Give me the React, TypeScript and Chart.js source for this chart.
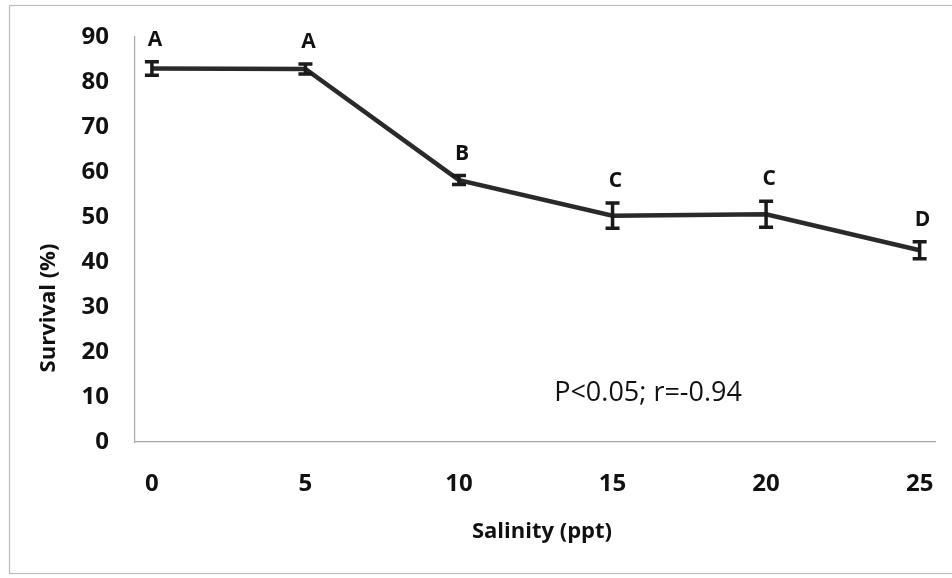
import React, { useEffect, useRef } from "react";
import { Chart, registerables } from "chart.js";

Chart.register(...registerables);

const salinity = [0, 5, 10, 15, 20, 25];
const survival = [83.0, 82.9, 58.2, 50.3, 50.6, 42.6];
const errors = [1.5, 1.1, 1.0, 2.8, 2.9, 1.9];
const letters = ["A", "A", "B", "C", "C", "D"];
const yTicks = [0, 10, 20, 30, 40, 50, 60, 70, 80, 90];
const xTicks = [0, 5, 10, 15, 20, 25];
const annotation = "P<0.05; r=-0.94";
const xTitle = "Salinity (ppt)";
const yTitle = "Survival (%)";

const FONT = "'Open Sans'";

const decorPlugin = {
  id: "decor",
  beforeDraw(chart: any) {
    const ctx = chart.ctx;
    ctx.save();
    ctx.strokeStyle = "#bcbcbc";
    ctx.lineWidth = 1.2;
    ctx.strokeRect(9.5, 5.5, 945, 568);
    ctx.restore();
  },
  afterDatasetsDraw(chart: any) {
    const ctx = chart.ctx;
    const xs = chart.scales.x;
    const ys = chart.scales.y;
    ctx.save();
    // error bars
    ctx.strokeStyle = "#1a1a1a";
    ctx.lineWidth = 3.5;
    survival.forEach((v, i) => {
      const x = xs.getPixelForValue(salinity[i]);
      const yt = ys.getPixelForValue(v + errors[i]);
      const yb = ys.getPixelForValue(v - errors[i]);
      ctx.beginPath();
      ctx.moveTo(x, yt);
      ctx.lineTo(x, yb);
      ctx.moveTo(x - 7, yt);
      ctx.lineTo(x + 7, yt);
      ctx.moveTo(x - 7, yb);
      ctx.lineTo(x + 7, yb);
      ctx.stroke();
    });
    // letters
    ctx.fillStyle = "#111";
    ctx.font = `bold 21px ${FONT}`;
    ctx.textAlign = "center";
    ctx.textBaseline = "middle";
    survival.forEach((v, i) => {
      const x = xs.getPixelForValue(salinity[i]) + 3;
      const y = ys.getPixelForValue(v + errors[i]) - 22;
      ctx.fillText(letters[i], x, y);
    });
    // annotation
    ctx.font = `27px ${FONT}`;
    ctx.textAlign = "left";
    ctx.fillText(annotation, xs.getPixelForValue(13.1), ys.getPixelForValue(10.8));
    // axis titles
    ctx.font = `bold 22px ${FONT}`;
    ctx.textAlign = "center";
    ctx.fillText(xTitle, 542, 532);
    ctx.translate(49, 308);
    ctx.rotate(-Math.PI / 2);
    ctx.fillText(yTitle, 0, 0);
    ctx.restore();
  },
};

export default function App() {
  const ref = useRef<HTMLCanvasElement>(null);
  useEffect(() => {
    if (!ref.current) return;
    const chart = new Chart(ref.current, {
      type: "line",
      data: {
        datasets: [
          {
            data: salinity.map((x, i) => ({ x, y: survival[i] })),
            borderColor: "#2a2a2a",
            borderWidth: 4.5,
            pointRadius: 0,
            tension: 0,
          },
        ],
      },
      options: {
        animation: false,
        responsive: false,
        maintainAspectRatio: false,
        layout: { padding: { top: 37, right: 17, left: 30, bottom: 20 } },
        plugins: { legend: { display: false }, tooltip: { enabled: false } },
        scales: {
          x: {
            type: "linear",
            min: -0.55,
            max: 25.5,
            afterBuildTicks: (s: any) => {
              s.ticks = xTicks.map((v) => ({ value: v }));
            },
            afterFit: (s: any) => {
              s.height = 578 - 442 - 20;
              s.paddingLeft = 0;
              s.paddingRight = 0;
            },
            grid: { display: false, drawTicks: false },
            border: { display: true, color: "#a8a8a8", width: 1.2 },
            ticks: {
              color: "#111",
              padding: 28,
              font: { family: FONT, size: 24, weight: "bold" },
            },
          },
          y: {
            min: 0,
            max: 90,
            afterBuildTicks: (s: any) => {
              s.ticks = yTicks.map((v) => ({ value: v }));
            },
            afterFit: (s: any) => {
              s.width = 135 - 30;
              s.paddingTop = 0;
              s.paddingBottom = 0;
            },
            grid: { display: false, drawTicks: true, tickLength: 6, tickColor: "#a8a8a8" } as any,
            border: { display: true, color: "#a8a8a8", width: 1.2 },
            ticks: {
              color: "#111",
              padding: 20,
              font: { family: FONT, size: 24, weight: "bold" },
            },
          },
        },
      },
      plugins: [decorPlugin],
    });
    return () => chart.destroy();
  }, []);
  return (
    <div style={{ position: "fixed", left: 0, top: 0, width: 952, height: 578, background: "#fff" }}>
      <canvas ref={ref} width={952} height={578} style={{ width: 952, height: 578 }} />
    </div>
  );
}
